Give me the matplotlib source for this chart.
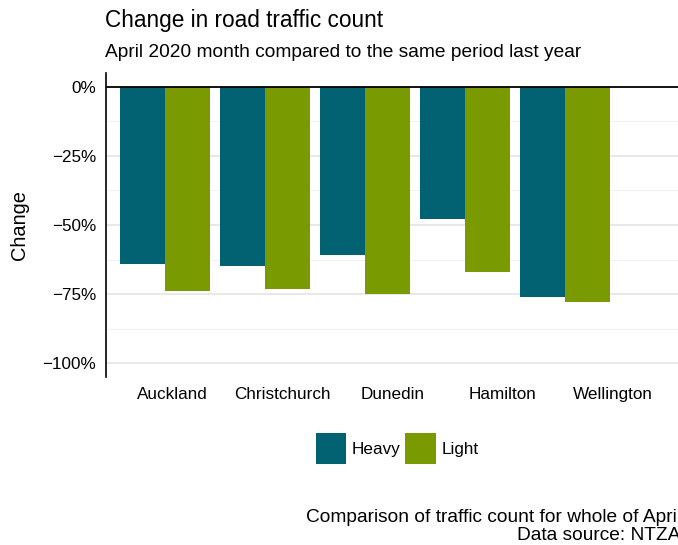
import matplotlib
matplotlib.use("Agg")
import matplotlib.pyplot as plt
from matplotlib.patches import Patch
import numpy as np

plt.rcParams['font.family'] = ['Liberation Sans', 'DejaVu Sans']

cities = ["Auckland", "Christchurch", "Dunedin", "Hamilton", "Wellington"]
heavy = [-64, -65, -61, -48, -76]
light = [-74, -73, -75, -67, -78]
yticks = [0, -25, -50, -75, -100]
ytick_labels = ["0%", "\u221225%", "\u221250%", "\u221275%", "\u2212100%"]
series_names = ["Heavy", "Light"]
colors = ["#026272", "#7A9A01"]

W, H = 678, 545
fig = plt.figure(figsize=(W / 100, H / 100), dpi=100)

ax_left, ax_right = 106, 690
ax_top, ax_bottom = 73, 377
ax = fig.add_axes([ax_left / W, 1 - ax_bottom / H, (ax_right - ax_left) / W, (ax_bottom - ax_top) / H])

x = np.arange(len(cities))
bw = 0.45
ax.bar(x - bw / 2, heavy, width=bw, color=colors[0], zorder=3)
ax.bar(x + bw / 2, light, width=bw, color=colors[1], zorder=3)

ax.set_ylim(-105, 5)
ax.set_xlim(-0.59, -0.59 + (ax_right - ax_left) / 100)

for v in [-100, -75, -50, -25]:
    ax.axhline(v, color="#E6E6E6", lw=1.3, zorder=1)
for v in [-87.5, -62.5, -37.5, -12.5]:
    ax.axhline(v, color="#F2F2F2", lw=0.8, zorder=1)
ax.axhline(0, color="black", lw=1.3, zorder=4)

ax.set_yticks(yticks)
ax.set_yticklabels(ytick_labels)
ax.set_xticks(0.07 + 1.103 * x)
ax.set_xticklabels(cities)
ax.tick_params(axis="both", length=0, labelsize=12.3, colors="black")
ax.tick_params(axis="y", pad=7)
ax.tick_params(axis="x", pad=7.5)

for s in ["top", "right", "bottom"]:
    ax.spines[s].set_visible(False)
ax.spines["left"].set_color("black")
ax.spines["left"].set_linewidth(1.2)

ax.set_ylabel("Change", fontsize=14.4, labelpad=10)

fig.text(105 / W, 1 - 27 / H, "Change in road traffic count", fontsize=16.3, va="baseline", ha="left")
fig.text(105 / W, 1 - 57 / H, "April 2020 month compared to the same period last year", fontsize=13.8, va="baseline", ha="left")

handles = [Patch(facecolor=c, edgecolor="none") for c in colors]
fig.legend(handles, series_names, loc="center", bbox_to_anchor=(397 / W, 1 - 448.5 / H),
           ncol=2, frameon=False, fontsize=12.3, handlelength=1.8, handleheight=2.42,
           handletextpad=0.3, columnspacing=0.3, borderpad=0)

fig.text(681 / W, 1 - 522 / H, "Comparison of traffic count for whole of April", fontsize=13.8,
         va="baseline", ha="right")
fig.text(681 / W, 1 - 540 / H, "Data source: NTZA", fontsize=13.8, va="baseline", ha="right")

fig.savefig("out.png", dpi=100)
